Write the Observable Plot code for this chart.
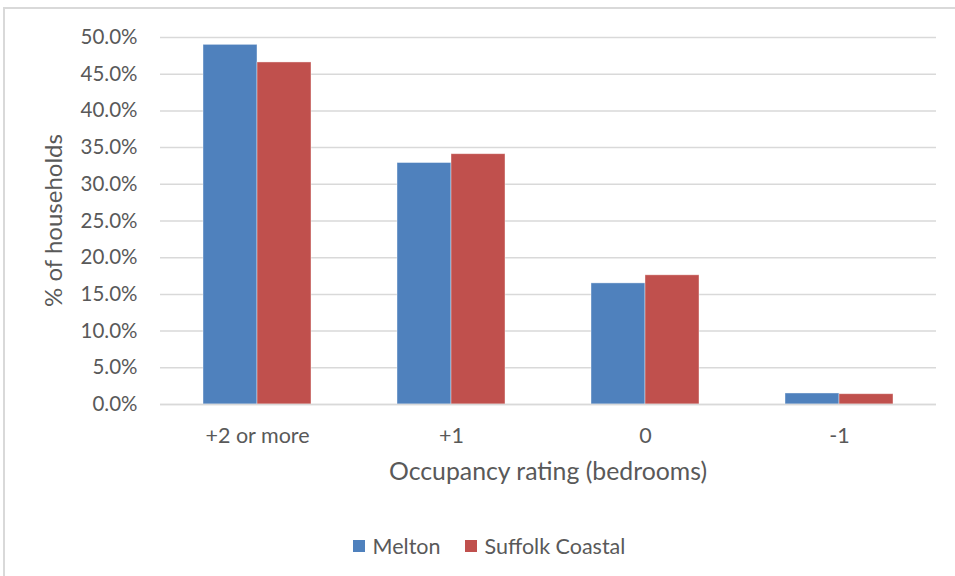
<!DOCTYPE html>
<html>
<head>
<meta charset="utf-8">
<script src="https://cdn.jsdelivr.net/npm/d3@7"></script>
<script src="https://cdn.jsdelivr.net/npm/@observablehq/plot@0.6"></script>
<style>
  html, body { margin: 0; padding: 0; background: #fff; overflow: hidden; }
  #frame { position: absolute; left: 3px; top: 7px; width: 1000px; height: 600px;
           border-left: 2px solid #d9d9d9; border-top: 2px solid #d9d9d9; box-sizing: border-box; }
  #chart { position: absolute; left: 0; top: 0; }
  #legend { position: absolute; top: 533px; left: 0; width: 978px; display: flex; justify-content: center;
            font-family: Lato, "Open Sans", sans-serif; font-size: 21.5px; color: #595959; }
  .item { display: flex; align-items: center; margin: 0 12px; }
  .sw { width: 12px; height: 12px; margin-right: 8px; }
</style>
</head>
<body>
<div id="frame"></div>
<div id="chart"></div>
<div id="legend"></div>
<script>
const categories = ["+2 or more", "+1", "0", "-1"];
const seriesNames = ["Melton", "Suffolk Coastal"];
const melton = [49.0, 32.9, 16.5, 1.5];
const suffolkCoastal = [46.6, 34.1, 17.6, 1.4];
const colors = ["#4f81bd", "#c0504d"];
const yTicks = [0, 5, 10, 15, 20, 25, 30, 35, 40, 45, 50];
const xTitle = "Occupancy rating (bedrooms)";
const yTitle = "% of households";

const data = [];
categories.forEach((c, i) => {
  data.push({category: c, series: seriesNames[0], value: melton[i]});
  data.push({category: c, series: seriesNames[1], value: suffolkCoastal[i]});
});

const W = 955, H = 520;
const plot = Plot.plot({
  width: W, height: H,
  marginTop: 37, marginBottom: H - 404, marginLeft: 160, marginRight: 19,
  style: {fontFamily: "Lato, 'Open Sans', sans-serif", color: "#595959", background: "transparent"},
  fx: {domain: categories, padding: 0, label: null, axis: null},
  x: {domain: seriesNames, paddingInner: 0, paddingOuter: 0.764, axis: null},
  y: {domain: [0, 50], label: null},
  color: {domain: seriesNames, range: colors},
  marks: [
    Plot.gridY(yTicks, {stroke: "#d9d9d9", strokeOpacity: 1, strokeWidth: 1.5}),
    Plot.barY(data, {fx: "category", x: "series", y: "value", fill: "series", stroke: "#ffffff", strokeOpacity: 0.5, strokeWidth: 0.8}),
    Plot.ruleY([0], {stroke: "#d9d9d9", strokeWidth: 1.5}),
    Plot.axisY({ticks: yTicks, tickSize: 0, tickPadding: 23, tickFormat: d => d.toFixed(1) + "%", fontSize: 20.5, fill: "#595959", label: null}),
    Plot.axisFx({anchor: "bottom", tickSize: 0, tickPadding: 23, fontSize: 21.5, fill: "#595959", label: null})
  ]
});
document.getElementById("chart").appendChild(plot);

// Axis titles
const svg = d3.select(plot);
svg.append("text")
  .attr("x", (160 + (W - 19)) / 2).attr("y", 474)
  .attr("text-anchor", "middle").attr("dominant-baseline", "middle")
  .attr("font-size", 24.8).attr("fill", "#595959")
  .text(xTitle);
svg.append("text")
  .attr("transform", `translate(56, ${(37 + 404) / 2}) rotate(-90)`)
  .attr("text-anchor", "middle").attr("dominant-baseline", "middle")
  .attr("font-size", 24).attr("fill", "#595959")
  .text(yTitle);

// Legend
const legend = document.getElementById("legend");
seriesNames.forEach((s, i) => {
  const item = document.createElement("div");
  item.className = "item";
  const sw = document.createElement("div");
  sw.className = "sw";
  sw.style.background = colors[i];
  const t = document.createElement("span");
  t.textContent = s;
  item.appendChild(sw);
  item.appendChild(t);
  legend.appendChild(item);
});
</script>
</body>
</html>
